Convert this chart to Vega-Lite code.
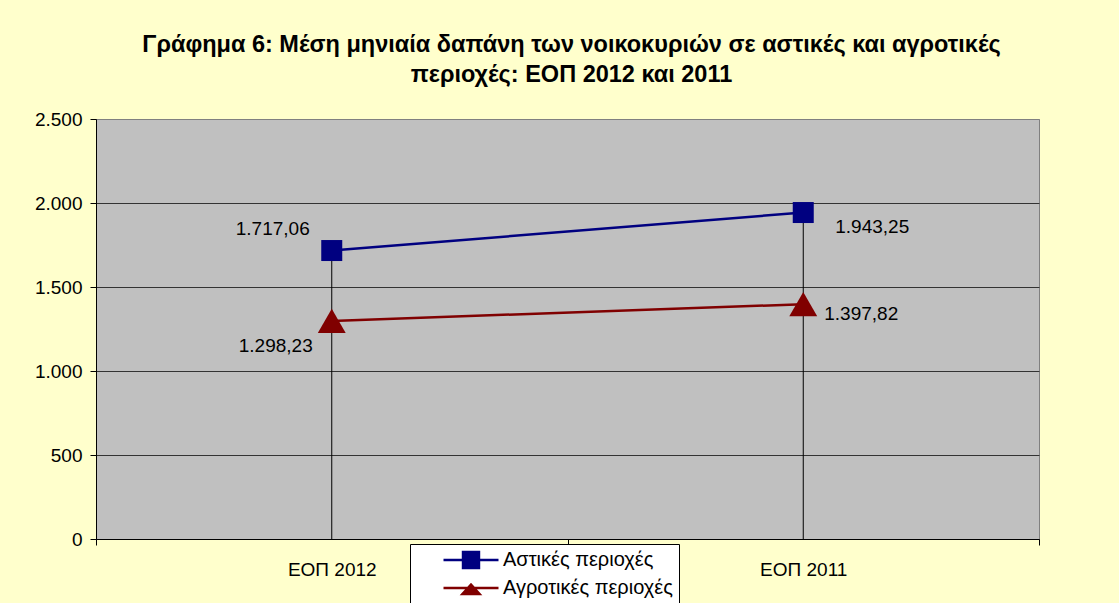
{
  "$schema": "https://vega.github.io/schema/vega-lite/v6.json",
  "autosize": {"type": "none"},
  "width": 943,
  "height": 420,
  "padding": {"left": 96, "top": 119, "right": 80, "bottom": 64},
  "background": "#FFFFCC",
  "config": {
    "locale": {"number": {"decimal": ",", "thousands": ".", "grouping": [3], "currency": ["", " €"]}},
    "font": "Liberation Sans",
    "view": {"fill": "#C0C0C0", "stroke": "#808080", "strokeWidth": 1},
    "axis": {"labelFont": "Liberation Sans", "labelFontSize": 19, "labelColor": "#000000", "domainColor": "#000000", "tickColor": "#000000", "title": null}
  },
  "title": {
    "text": ["Γράφημα 6: Μέση μηνιαία δαπάνη των  νοικοκυριών σε αστικές και αγροτικές", "περιοχές: ΕΟΠ 2012 και 2011"],
    "fontSize": 23.5,
    "fontWeight": "bold",
    "font": "Liberation Sans",
    "color": "#000000",
    "anchor": "middle",
    "offset": 24,
    "lineHeight": 30,
    "dx": 4
  },
  "data": {"values": [
    {"period": "ΕΟΠ 2012", "series": "Αστικές περιοχές", "value": 1717.06},
    {"period": "ΕΟΠ 2011", "series": "Αστικές περιοχές", "value": 1943.25},
    {"period": "ΕΟΠ 2012", "series": "Αγροτικές περιοχές", "value": 1298.23},
    {"period": "ΕΟΠ 2011", "series": "Αγροτικές περιοχές", "value": 1397.82}
  ]},
  "encoding": {
    "x": {
      "field": "period", "type": "nominal", "sort": ["ΕΟΠ 2012", "ΕΟΠ 2011"],
      "scale": {"type": "band", "paddingInner": 0, "paddingOuter": 0},
      "axis": {"tickBand": "extent", "labelAngle": 0, "tickSize": 6, "labelPadding": 15, "grid": false}
    },
    "y": {
      "field": "value", "type": "quantitative",
      "scale": {"domain": [0, 2500]},
      "axis": {
        "values": [0, 500, 1000, 1500, 2000, 2500], "format": ",d", "tickSize": 6, "labelPadding": 8, "grid": true,
        "gridColor": {"condition": {"test": "datum.value === 2500", "value": "#808080"}, "value": "#333333"}
      }
    }
  },
  "layer": [
    {
      "transform": [{"filter": "datum.series === 'Αστικές περιοχές'"}],
      "mark": {"type": "rule", "color": "#000000", "strokeWidth": 1},
      "encoding": {"y2": {"datum": 0}}
    },
    {
      "mark": {"type": "line", "strokeWidth": 2.5},
      "encoding": {
        "color": {
          "field": "series", "type": "nominal",
          "scale": {"domain": ["Αστικές περιοχές", "Αγροτικές περιοχές"], "range": ["#000080", "#800000"]},
          "legend": {
            "orient": "none", "legendX": 314, "legendY": 425, "title": null,
            "fillColor": "#FFFFFF", "strokeColor": "#000000", "padding": 6,
            "symbolSize": 3025, "symbolStrokeWidth": 2.5, "clipHeight": 20, "rowPadding": 8,
            "labelFont": "Liberation Sans", "labelFontSize": 20, "labelColor": "#000000", "labelLimit": 400,
            "labelOffset": 3, "symbolOffset": 26,
            "encode": {
              "symbols": {
                "update": {
                  "shape": {"signal": "datum.value === 'Αστικές περιοχές' ? 'M-1,0H1M-0.29,-0.29H0.29V0.29H-0.29ZM8.4,0h0' : 'M-1,0H1M0,-0.12L0.31,0.22H-0.31ZM8.4,0h0'"},
                  "fill": {"scale": "color", "field": "value"},
                  "stroke": {"scale": "color", "field": "value"},
                  "strokeWidth": {"value": 2.5},
                  "opacity": {"value": 1}
                }
              }
            }
          }
        }
      }
    },
    {
      "transform": [{"filter": "datum.series === 'Αστικές περιοχές'"}],
      "mark": {"type": "point", "shape": "square", "filled": true, "opacity": 1, "size": 441},
      "encoding": {"color": {"field": "series", "type": "nominal"}}
    },
    {
      "transform": [{"filter": "datum.series === 'Αγροτικές περιοχές'"}],
      "mark": {"type": "point", "shape": "triangle-up", "filled": true, "opacity": 1, "size": 780},
      "encoding": {"color": {"field": "series", "type": "nominal"}}
    },
    {
      "transform": [{"filter": "datum.series === 'Αστικές περιοχές' && datum.period === 'ΕΟΠ 2012'"}],
      "mark": {"type": "text", "fontSize": 19, "font": "Liberation Sans", "color": "#000000", "dx": -59, "dy": -22, "align": "center", "baseline": "middle"},
      "encoding": {"text": {"field": "value", "type": "quantitative", "format": ",.2f"}}
    },
    {
      "transform": [{"filter": "datum.series === 'Αστικές περιοχές' && datum.period === 'ΕΟΠ 2011'"}],
      "mark": {"type": "text", "fontSize": 19, "font": "Liberation Sans", "color": "#000000", "dx": 69, "dy": 14, "align": "center", "baseline": "middle"},
      "encoding": {"text": {"field": "value", "type": "quantitative", "format": ",.2f"}}
    },
    {
      "transform": [{"filter": "datum.series === 'Αγροτικές περιοχές' && datum.period === 'ΕΟΠ 2012'"}],
      "mark": {"type": "text", "fontSize": 19, "font": "Liberation Sans", "color": "#000000", "dx": -56, "dy": 25, "align": "center", "baseline": "middle"},
      "encoding": {"text": {"field": "value", "type": "quantitative", "format": ",.2f"}}
    },
    {
      "transform": [{"filter": "datum.series === 'Αγροτικές περιοχές' && datum.period === 'ΕΟΠ 2011'"}],
      "mark": {"type": "text", "fontSize": 19, "font": "Liberation Sans", "color": "#000000", "dx": 58, "dy": 10, "align": "center", "baseline": "middle"},
      "encoding": {"text": {"field": "value", "type": "quantitative", "format": ",.2f"}}
    }
  ]
}
